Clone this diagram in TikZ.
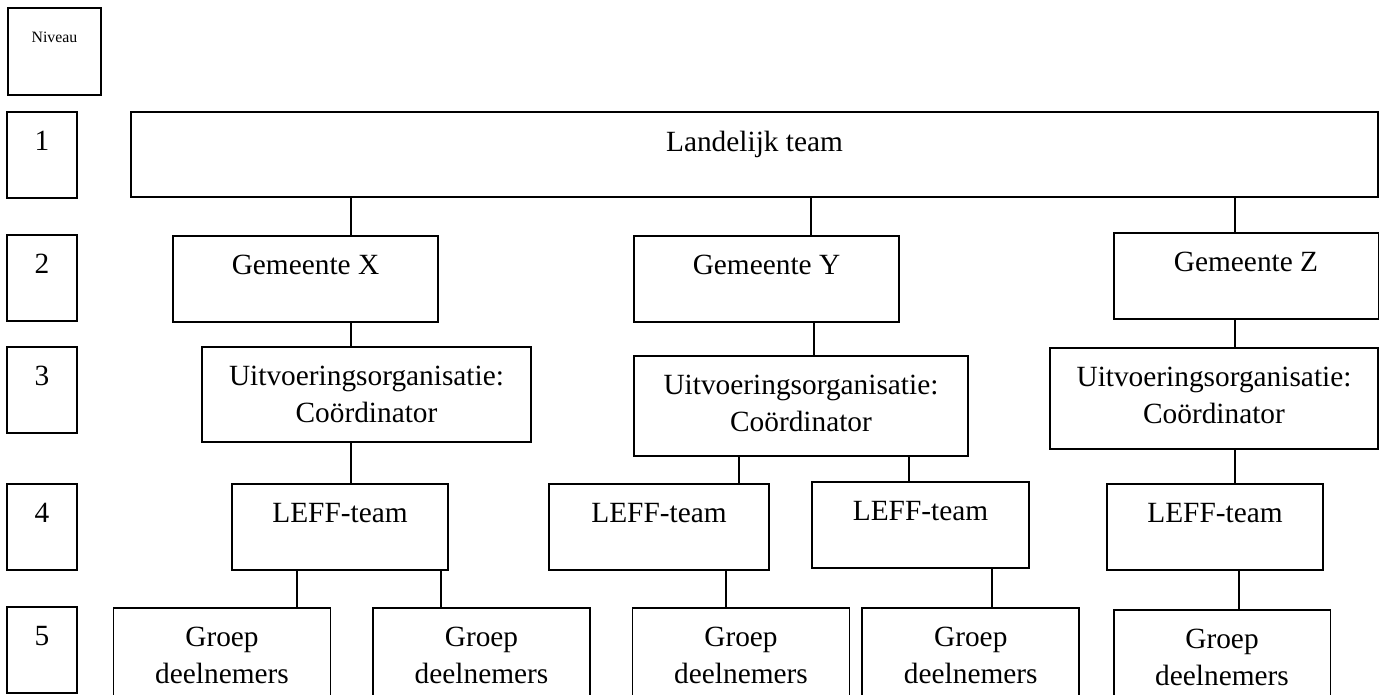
\documentclass[tikz,border=0pt]{standalone}
\usepackage{fontspec}
\setmainfont{Liberation Serif}
\usepackage{tikz}

\begin{document}
\begin{tikzpicture}[x=0.02cm,y=-0.02cm,-]
            \tikzstyle{box}=[draw=black,line width=1.1pt,outer sep=0pt,inner sep=0pt,minimum height=1.72cm]
            \tikzstyle{txt}=[anchor=north,inner sep=0pt,align=center,font=\fontsize{16.7}{21}\selectfont,yshift=-0.37cm]
            \tikzstyle{nivtxt}=[anchor=north,inner sep=0pt,font=\fontsize{9}{11}\selectfont,yshift=-0.48cm]
            \tikzstyle{link}=[line width=0.85pt]
            \useasboundingbox (0,0) rectangle (1379,695);
            \clip (0,0) rectangle (1379,695);

            % levels
            \node[box,minimum width=1.86cm,minimum height=1.74cm,label={[nivtxt]north:Niveau}] (niv) at (54.5,51.5) {};
            \foreach \num/\y in {1/155, 2/278, 3/390, 4/527, 5/650}
                    \node[box,minimum width=1.4cm,label={[txt]north:\num}] (N-\num) at (42,\y) {};

            \node[box,minimum width=24.94cm,minimum height=1.7cm,label={[txt]north:Landelijk team}] (land) at (754.5,154.5) {};

            \foreach \name/\x/\y in {X/305.5/279, Y/766.5/279, Z/1246/276}
                    \node[box,minimum width=5.3cm,label={[txt]north:Gemeente \name}] (G-\name) at (\x,\y) {};

            \foreach \name/\x/\y/\w/\h in {X/366.5/394.5/6.58/1.9, Y/801/406/6.68/2.0, Z/1214/398.5/6.56/2.02}
                    \node[box,minimum width=\w cm,minimum height=\h cm,
                          label={[txt]north:Uitvoeringsorganisatie:\\Coördinator}] (U-\name) at (\x,\y) {};

            \foreach \name/\x/\y/\w in {X/340/527/4.32, Y1/659/527/4.4, Y2/920.5/525/4.34, Z/1215/527/4.32}
                    \node[box,minimum width=\w cm,label={[txt]north:LEFF-team}] (L-\name) at (\x,\y) {};

            \foreach \num/\x/\y in {1/222/654, 2/481.5/654, 3/741/654, 4/970.75/654, 5/1222/656}
                    \node[box,minimum width=4.34cm,minimum height=1.84cm,label={[txt]north:Groep\\deelnemers}] (P-\num) at (\x,\y) {};

                \foreach \from/\to/\x in {land/G-X/351, land/G-Y/811, land/G-Z/1235,
                                          G-X/U-X/351, G-Y/U-Y/814, G-Z/U-Z/1235,
                                          U-X/L-X/351, U-Y/L-Y1/739, U-Y/L-Y2/909, U-Z/L-Z/1235,
                                          L-X/P-1/297, L-X/P-2/441, L-Y1/P-3/726, L-Y2/P-4/992, L-Z/P-5/1239}
                    \draw[link] (\from.south -| \x,0) -- (\to.north -| \x,0);
        \end{tikzpicture}
\end{document}
